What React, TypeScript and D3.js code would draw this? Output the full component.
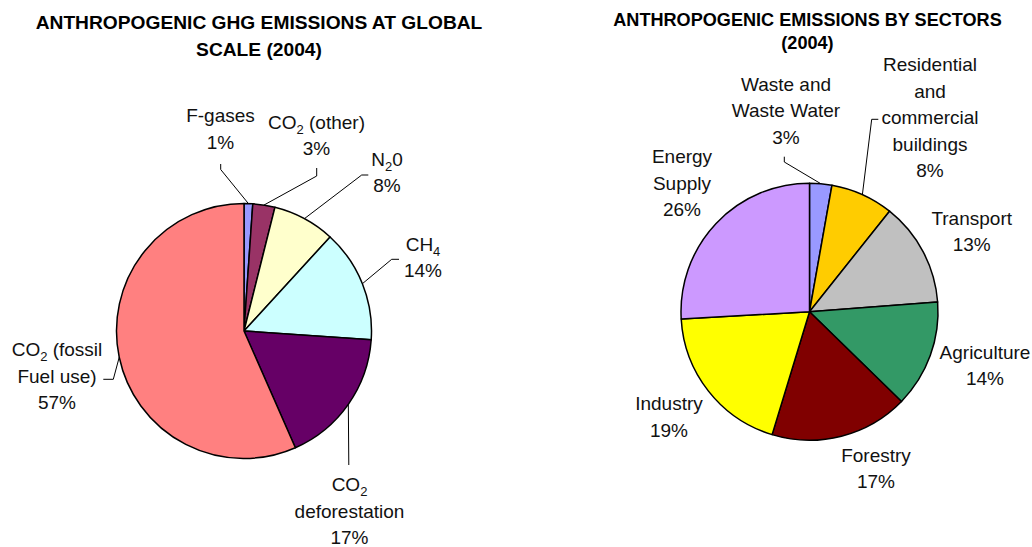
import React from "react";
import * as d3 from "d3";

// ---- Data ----
const ghgCategories = ["F-gases", "CO_2 (other)", "N_20", "CH_4", "CO_2|deforestation", "CO_2 (fossil|Fuel use)"];
const ghgValues = [1.1, 2.8, 7.9, 14.3, 17.3, 56.6];
const ghgColors = ["#9999FF", "#993366", "#FFFFCC", "#CCFFFF", "#660066", "#FF8080"];

const sectorCategories = [
  "Waste and|Waste Water",
  "Residential|and|commercial|buildings",
  "Transport",
  "Agriculture",
  "Forestry",
  "Industry",
  "Energy|Supply",
];
const sectorValues = [2.8, 7.9, 13.1, 13.5, 17.4, 19.4, 25.9];
const sectorColors = ["#9999FF", "#FFCC00", "#C0C0C0", "#339966", "#800000", "#FFFF00", "#CC99FF"];

const titleLeft = ["ANTHROPOGENIC GHG EMISSIONS AT GLOBAL", "SCALE (2004)"];
const titleRight = ["ANTHROPOGENIC EMISSIONS BY SECTORS", "(2004)"];

// ---- Layout ----
type LabelLayout = { x: number; y: number; leader?: [number, number][] };

const leftPie = { cx: 244, cy: 331, r: 127.5 };
const rightPie = { cx: 809.5, cy: 311.7, r: 128.5 };

const ghgLabelLayout: LabelLayout[] = [
  { x: 220.5, y: 122, leader: [[220.7, 164], [220.7, 169.5]] },
  { x: 316.5, y: 128.5, leader: [[316.7, 168], [316.7, 176]] },
  { x: 387, y: 165.5, leader: [[368.3, 175], [361.7, 175]] },
  { x: 423, y: 250.5, leader: [[399, 259.3], [391.7, 259.3]] },
  { x: 349.5, y: 491, leader: [[348.8, 465]] },
  { x: 57, y: 356, leader: [[103.3, 379.3], [113.3, 379.3]] },
];

const sectorLabelLayout: LabelLayout[] = [
  { x: 786, y: 90.5, leader: [[784.3, 156.7], [784.3, 162]] },
  { x: 930, y: 71, leader: [[878.3, 119.3], [871.7, 119.3]] },
  { x: 971.7, y: 224.5 },
  { x: 985, y: 358.5 },
  { x: 876, y: 461.5 },
  { x: 669, y: 410 },
  { x: 682, y: 163 },
];

const LH = 26.5;
const FONT = "'Liberation Sans', Arial, Helvetica, sans-serif";

function RichLine({ text, x, y }: { text: string; x: number; y: number }) {
  // "_" marks the next char as subscript
  const parts: { t: string; sub: boolean }[] = [];
  let buf = "";
  for (let i = 0; i < text.length; i++) {
    if (text[i] === "_" && i + 1 < text.length) {
      if (buf) parts.push({ t: buf, sub: false });
      buf = "";
      parts.push({ t: text[i + 1], sub: true });
      i++;
    } else buf += text[i];
  }
  if (buf) parts.push({ t: buf, sub: false });
  let shifted = false;
  return (
    <text x={x} y={y} textAnchor="middle" fontFamily={FONT} fontSize={19} fill="#111">
      {parts.map((p, i) => {
        let dy = 0;
        if (p.sub && !shifted) { dy = 5; shifted = true; }
        else if (!p.sub && shifted) { dy = -5; shifted = false; }
        return (
          <tspan key={i} dy={dy} fontSize={p.sub ? 13 : 19}>
            {p.t}
          </tspan>
        );
      })}
    </text>
  );
}

function Pie({
  categories, values, colors, layout, geom,
}: {
  categories: string[]; values: number[]; colors: string[]; layout: LabelLayout[];
  geom: { cx: number; cy: number; r: number };
}) {
  const pie = d3.pie<number>().sort(null).value((d) => d);
  const arcs = pie(values);
  const arc = d3.arc<d3.PieArcDatum<number>>().innerRadius(0).outerRadius(geom.r);
  const total = d3.sum(values);
  return (
    <g>
      <g transform={`translate(${geom.cx},${geom.cy})`}>
        {arcs.map((a, i) => (
          <path key={i} d={arc(a) || ""} fill={colors[i]} stroke="#000" strokeWidth={1.5} strokeLinejoin="round" />
        ))}
      </g>
      {arcs.map((a, i) => {
        const L = layout[i];
        const mid = (a.startAngle + a.endAngle) / 2;
        const ex = geom.cx + geom.r * Math.sin(mid);
        const ey = geom.cy - geom.r * Math.cos(mid);
        const lines = categories[i].split("|");
        lines.push(`${Math.round((values[i] / total) * 100)}%`);
        return (
          <g key={i}>
            {L.leader && (
              <polyline
                points={[...L.leader, [ex, ey]].map((p) => p.join(",")).join(" ")}
                fill="none" stroke="#000" strokeWidth={1}
              />
            )}
            {lines.map((t, j) => (
              <RichLine key={j} text={t} x={L.x} y={L.y + j * LH} />
            ))}
          </g>
        );
      })}
    </g>
  );
}

export default function App() {
  return (
    <svg width={1032} height={547} style={{ position: "absolute", left: 0, top: 0, background: "#fff" }}>
      <rect width={1032} height={547} fill="#fff" />
      {titleLeft.map((t, i) => (
        <text key={i} x={259} y={29 + i * 27} textAnchor="middle" fontFamily={FONT} fontWeight="bold" fontSize={19.2} fill="#000">{t}</text>
      ))}
      {titleRight.map((t, i) => (
        <text key={i} x={807.5} y={26 + i * 23} textAnchor="middle" fontFamily={FONT} fontWeight="bold" fontSize={18.1} fill="#000">{t}</text>
      ))}
      <Pie categories={ghgCategories} values={ghgValues} colors={ghgColors} layout={ghgLabelLayout} geom={leftPie} />
      <Pie categories={sectorCategories} values={sectorValues} colors={sectorColors} layout={sectorLabelLayout} geom={rightPie} />
    </svg>
  );
}
